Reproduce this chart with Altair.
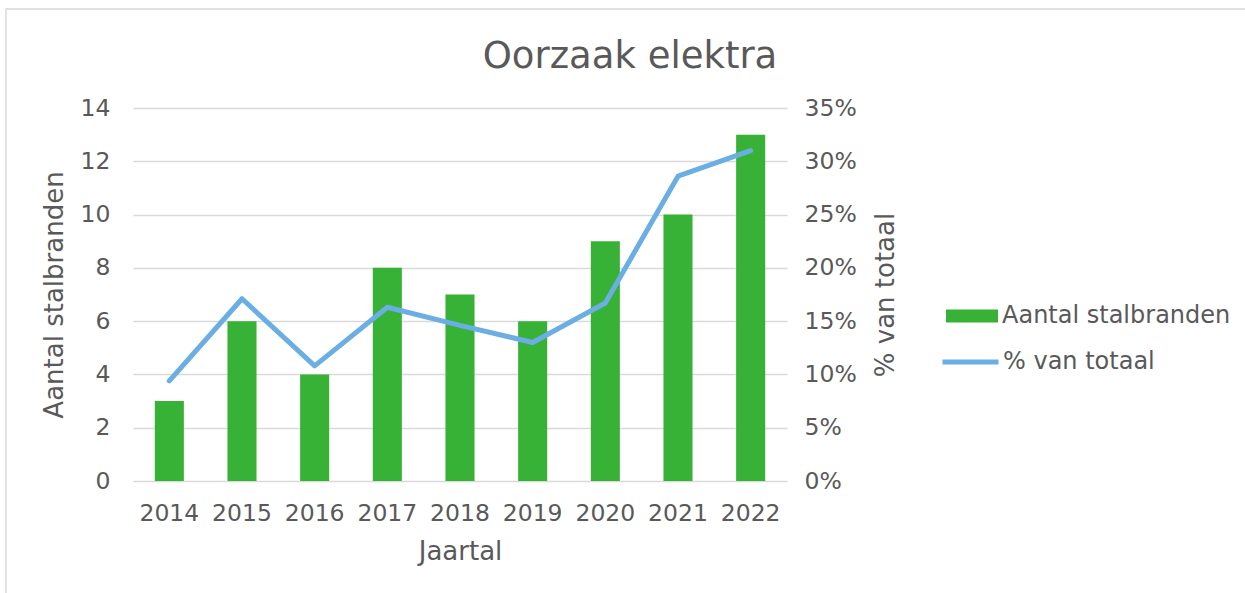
import altair as alt
import pandas as pd

jaren = ["2014", "2015", "2016", "2017", "2018", "2019", "2020", "2021", "2022"]
aantal_stalbranden = [3, 6, 4, 8, 7, 6, 9, 10, 13]
pct_van_totaal = [0.094, 0.171, 0.108, 0.163, 0.146, 0.130, 0.167, 0.286, 0.310]

serie_bar = "Aantal stalbranden"
serie_line = "% van totaal"

df = pd.DataFrame({
    "Jaartal": jaren,
    "aantal": aantal_stalbranden,
    "pct": pct_van_totaal,
    "s1": [serie_bar] * len(jaren),
    "s2": [serie_line] * len(jaren),
})

GREEN = "#37B136"
BLUE = "#6AAEE4"
TXT = "#595959"
FONT = "DejaVu Sans"

W, H = 654, 373
PL, PT = 133, 108

x = alt.X("Jaartal:O",
          scale=alt.Scale(paddingInner=0.6, paddingOuter=0.3),
          axis=alt.Axis(title="Jaartal", labelAngle=0, labelPadding=20,
                        titlePadding=14, ticks=False, domain=False))

bars = alt.Chart(df).mark_bar(color=GREEN).encode(
    x=x,
    y=alt.Y("aantal:Q", scale=alt.Scale(domain=[0, 14], nice=False),
            axis=alt.Axis(title="Aantal stalbranden", values=list(range(0, 15, 2)),
                          labelPadding=23, titlePadding=13, ticks=False, domain=False,
                          grid=True, gridColor="#D9D9D9", gridWidth=1.5)),
    fill=alt.Fill("s1:N", scale=alt.Scale(domain=[serie_bar], range=[GREEN]),
                  legend=alt.Legend(title=None, orient="none", legendX=807.5, legendY=196,
                                    symbolType="M-1,-1H7V1H-1Z", symbolSize=169,
                                    symbolStrokeWidth=0, labelOffset=37.5, padding=0,
                                    labelLimit=400)),
)

line = alt.Chart(df).mark_line(color=BLUE, strokeWidth=5, strokeCap="round", strokeJoin="round").encode(
    x=x,
    y=alt.Y("pct:Q", scale=alt.Scale(domain=[0, 0.35], nice=False),
            axis=alt.Axis(title="% van totaal", orient="right", format=".0%",
                          values=[0, 0.05, 0.10, 0.15, 0.20, 0.25, 0.30, 0.35],
                          labelPadding=17, titlePadding=16, titleAngle=270, titleBaseline="top",
                          ticks=False, domain=False, grid=False)),
    stroke=alt.Stroke("s2:N", scale=alt.Scale(domain=[serie_line], range=[BLUE]),
                      legend=alt.Legend(title=None, orient="none", legendX=804.5, legendY=242,
                                        symbolType="M-1,0H7", symbolSize=196,
                                        symbolStrokeWidth=5, labelOffset=41.5, padding=0,
                                        labelLimit=400)),
)

frame = alt.Chart(pd.DataFrame({"f": [0]})).mark_rect(fill="transparent", stroke="#D9D9D9", strokeWidth=1.5).encode(
    x=alt.value(6 - PL), x2=alt.value(1245 - PL + 10),
    y=alt.value(9 - PT), y2=alt.value(593 - PT + 10),
)

chart = alt.layer(frame, bars, line).resolve_scale(
    y="independent", fill="independent", stroke="independent"
).properties(
    width=W, height=H,
    title=alt.TitleParams("Oorzaak elektra", fontSize=37, font=FONT, color=TXT,
                          fontWeight="normal", anchor="middle", dx=170, offset=-97,
                          baseline="alphabetic"),
    padding={"left": PL, "top": PT, "right": 1245 - PL - W, "bottom": 593 - PT - H},
    autosize=alt.AutoSizeParams(type="none"),
).configure_view(stroke=None).configure_axis(
    labelFont=FONT, titleFont=FONT, labelFontSize=23.5, titleFontSize=26,
    labelColor=TXT, titleColor=TXT, titleFontWeight="normal",
).configure_legend(
    labelFont=FONT, labelFontSize=24, labelColor=TXT,
)

chart.save("out.html", embed_options={"renderer": "svg", "actions": False})
